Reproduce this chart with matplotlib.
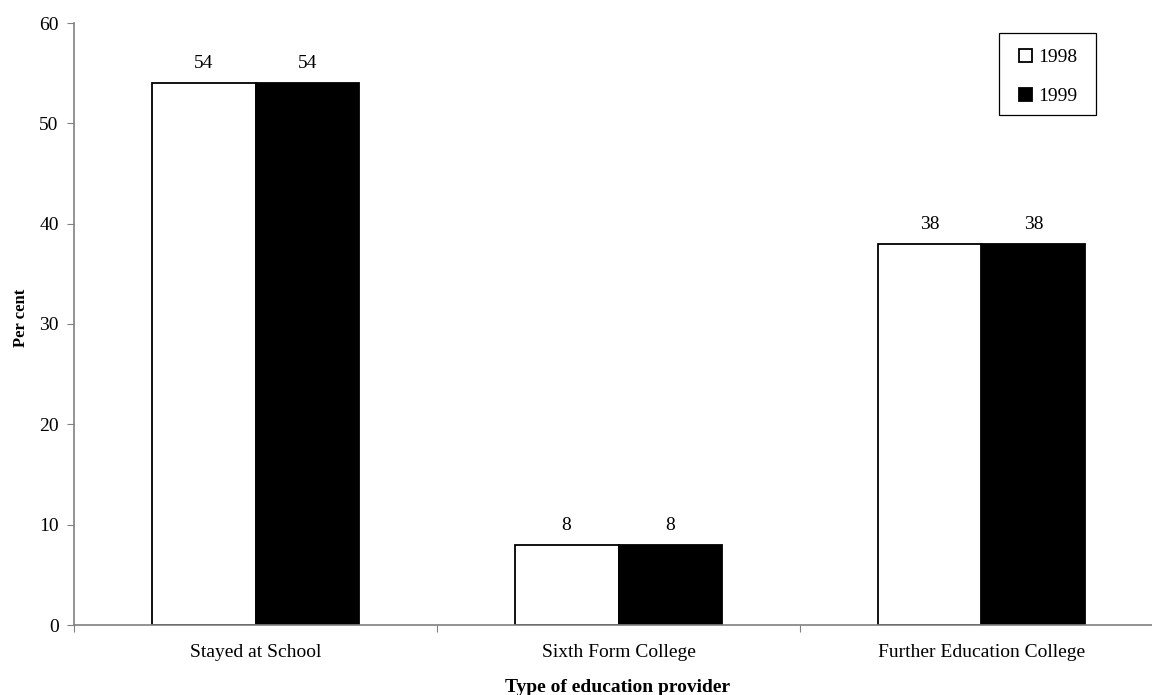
import matplotlib
matplotlib.use("Agg")
import matplotlib.pyplot as plt
from matplotlib.patches import Rectangle
import numpy as np

categories = ["Stayed at School", "Sixth Form College", "Further Education College"]
series_names = ["1998", "1999"]
values_1998 = [54, 8, 38]
values_1999 = [54, 8, 38]
y_ticks = [0, 10, 20, 30, 40, 50, 60]

plt.rcParams['font.family'] = ['Liberation Serif', 'DejaVu Serif']

fig = plt.figure(figsize=(11.52, 6.95), dpi=100)
W, H = 1152, 695
left_px, right_px = 74, 1163
bottom_px, top_px = 625, 23
ax = fig.add_axes([left_px / W, (H - bottom_px) / H, (right_px - left_px) / W, (bottom_px - top_px) / H])

x = np.arange(len(categories))
bw = 0.286
b1 = ax.bar(x - bw / 2, values_1998, bw, color="white", edgecolor="black", linewidth=1.3, label=series_names[0])
b2 = ax.bar(x + bw / 2, values_1999, bw, color="black", edgecolor="black", linewidth=1.3, label=series_names[1])

for bars, vals in ((b1, values_1998), (b2, values_1999)):
    for r, v in zip(bars, vals):
        ax.annotate(f"{v}", (r.get_x() + r.get_width() / 2, v), xytext=(0, 14),
                    textcoords="offset points", ha="center", va="center", fontsize=14)

ax.set_xlim(-0.5, len(categories) - 0.5)
ax.set_ylim(0, 60)
ax.set_yticks(y_ticks)
ax.set_yticklabels([str(t) for t in y_ticks], fontsize=14)

ax.set_xticks(np.arange(len(categories) + 1) - 0.5)
ax.set_xticklabels([])
ax.set_xticks(x, minor=True)
ax.set_xticklabels(categories, minor=True, fontsize=14)
ax.tick_params(axis="x", which="minor", length=0, pad=14)
ax.tick_params(axis="x", which="major", length=5, color="#808080", direction="out")
ax.tick_params(axis="y", length=5, color="#808080", direction="out", pad=6)

for s in ("top", "right"):
    ax.spines[s].set_visible(False)
for s in ("left", "bottom"):
    ax.spines[s].set_color("#808080")
    ax.spines[s].set_linewidth(1.2)

fig.text(21 / W, 1 - 318 / H, "Per cent", rotation=90, ha="center", va="center",
         fontsize=12, fontweight="bold")
fig.text(618 / W, 1 - 687 / H, "Type of education provider", ha="center", va="center",
         fontsize=14, fontweight="bold")

# legend frame
fig.add_artist(Rectangle((999 / W, 1 - 115 / H), (1096 - 999) / W, (115 - 33) / H,
                         transform=fig.transFigure, facecolor="white", edgecolor="black",
                         linewidth=0.9, zorder=5))
leg = fig.legend(handles=[b1, b2], labels=series_names, loc="center",
                 bbox_to_anchor=(1048 / W, 1 - 77 / H), frameon=False, fontsize=14,
                 handlelength=0.7, handleheight=0.7, handletextpad=0.3, labelspacing=1.1,
                 borderpad=0)
leg.set_zorder(6)

fig.savefig("out.png", dpi=100, facecolor="white")
